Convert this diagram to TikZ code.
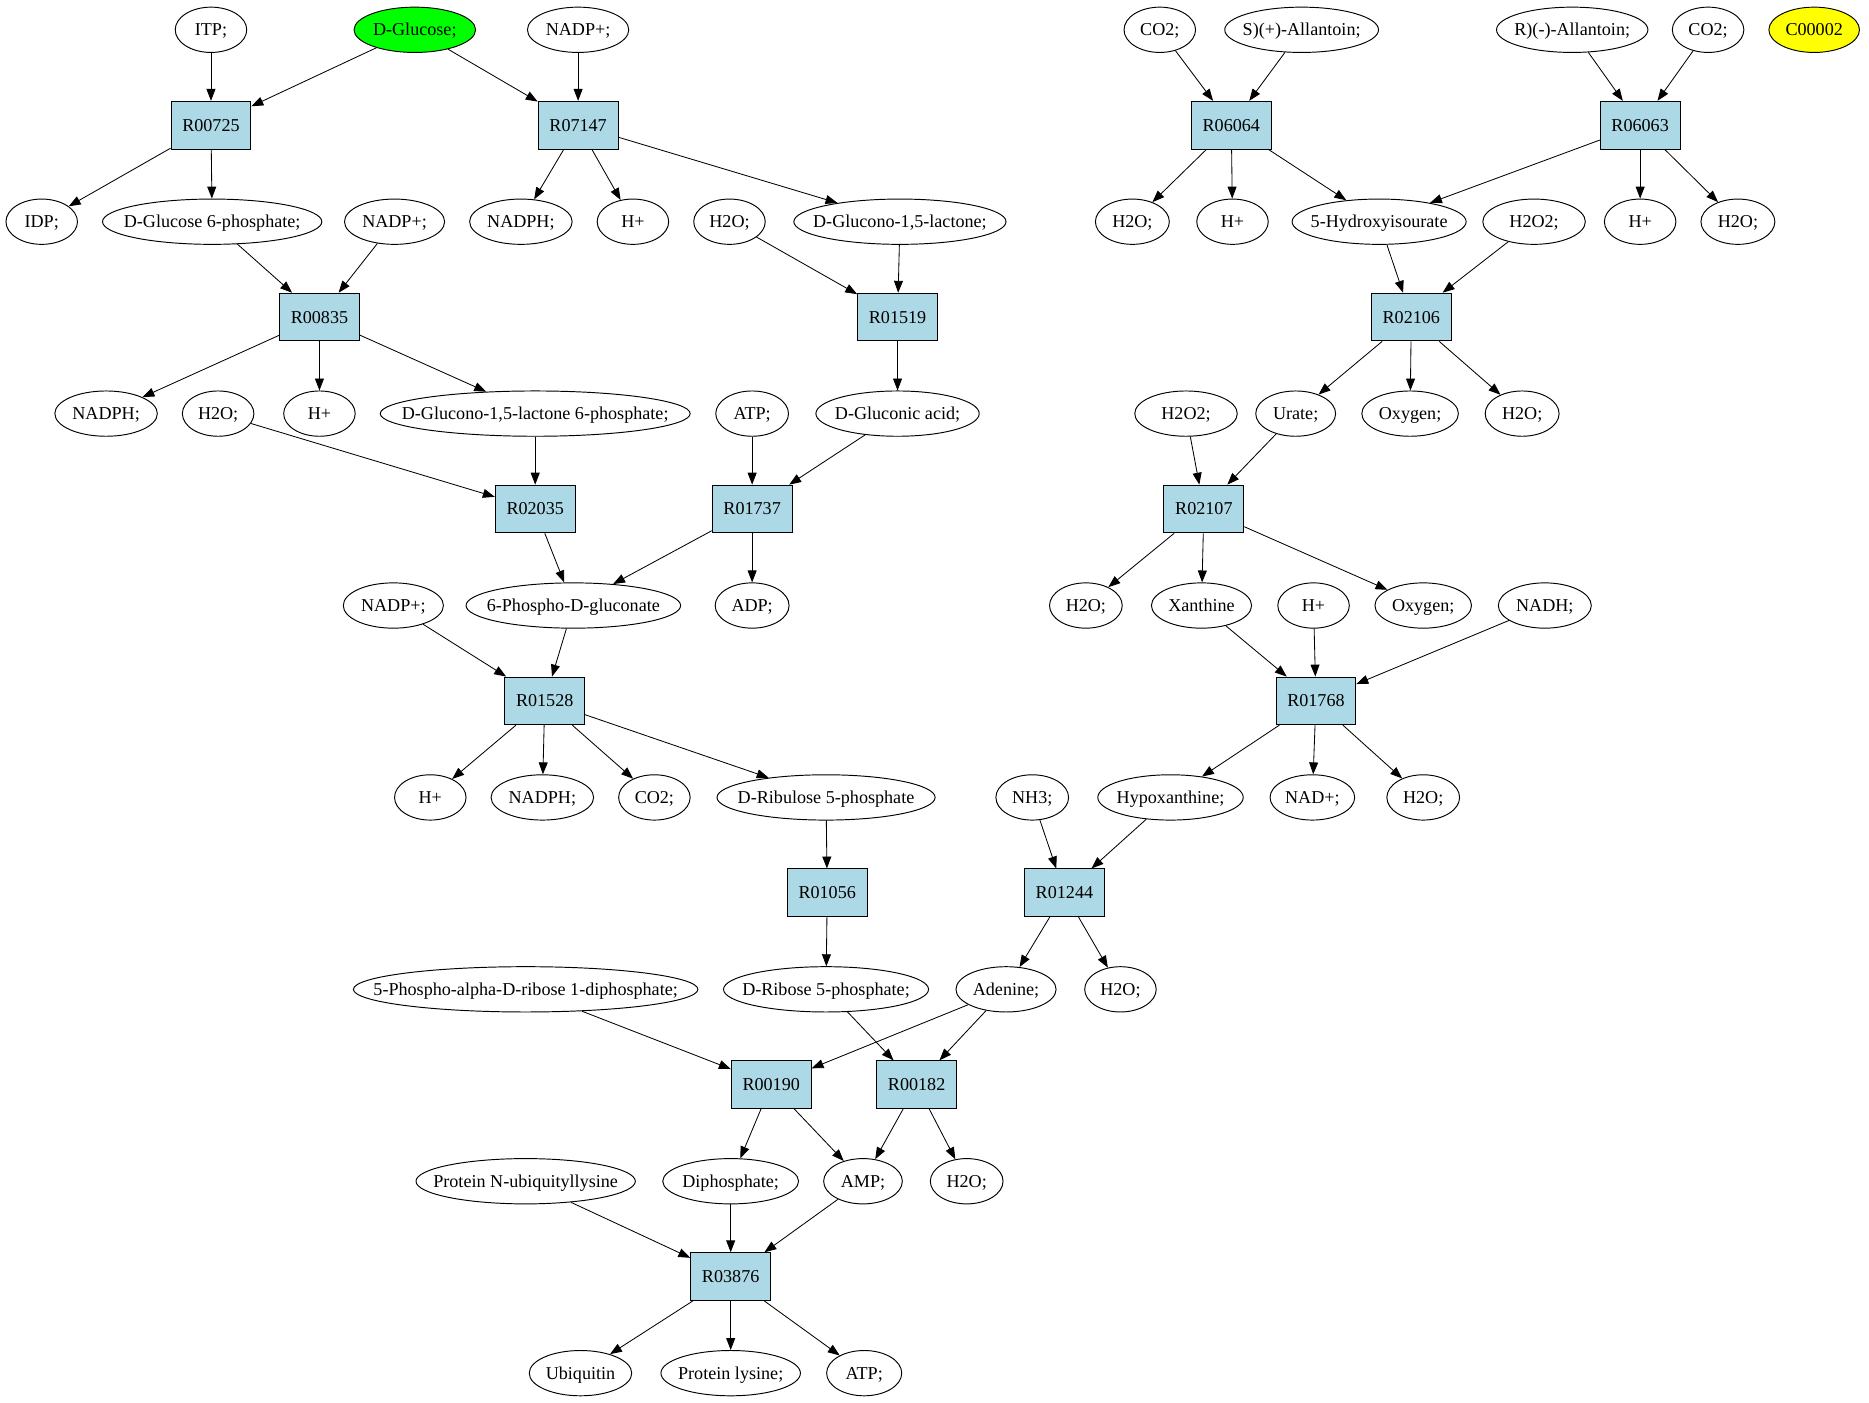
\documentclass[tikz,border=0pt]{standalone}
\usepackage{fontspec}
\setmainfont{Liberation Serif}
\usetikzlibrary{shapes.geometric,arrows.meta}
\definecolor{lightblue}{HTML}{ADD8E6}
\definecolor{gvgreen}{HTML}{00FF00}
\definecolor{gvyellow}{HTML}{FFFF00}
\newcommand\gvfont{\fontsize{15.2}{17}\selectfont}
\newcommand\mt[5][]{\node[met,minimum width=#4pt,#1] (#2) at (#3) {\makebox[0pt]{#5}};}
\begin{document}
\begin{tikzpicture}[x=1pt,y=-1pt,
  met/.style={ellipse,draw,line width=0.8pt,inner sep=0pt,minimum height=38pt,font=\gvfont,text height=11pt,text depth=1pt},
  rxn/.style={rectangle,draw,fill=lightblue,line width=0.8pt,minimum width=67pt,minimum height=40pt,inner sep=0pt,font=\gvfont,text height=11pt,text depth=1pt},
  arr/.style={-{Triangle[length=10pt,width=7.5pt]},line width=0.7pt}]
\useasboundingbox (0,0) rectangle (1568,1177);
% row 0
\mt{itp}{177,25}{60}{ITP;}
\mt[fill=gvgreen]{glc}{348,25}{102}{D-Glucose;}
\mt{nadpA}{485,25}{85}{NADP+;}
\mt{co2A}{973,25}{60}{CO2;}
\mt{sall}{1092,25}{129}{S)(+)-Allantoin;}
\mt{rall}{1319,25}{127}{R)(-)-Allantoin;}
\mt{co2B}{1433,25}{60}{CO2;}
\mt[fill=gvyellow]{c2}{1522,25}{76}{C00002}
% row 1
\node[rxn] (r725) at (177,105) {R00725};
\node[rxn] (r7147) at (485,105) {R07147};
\node[rxn] (r6064) at (1033,105) {R06064};
\node[rxn] (r6063) at (1376,105) {R06063};
% row 2
\mt{idp}{35,186}{60}{IDP;}
\mt{g6p}{178,186}{184}{D-Glucose 6-phosphate;}
\mt{nadpB}{331,186}{84}{NADP+;}
\mt{nadphA}{437,186}{86}{NADPH;}
\mt{hA}{531,186}{60}{H+}
\mt{h2oA}{612,186}{60}{H2O;}
\mt{glac}{755,186}{178}{D-Glucono-1,5-lactone;}
\mt{h2oB}{950,186}{62}{H2O;}
\mt{hB}{1034,186}{60}{H+}
\mt{hiu}{1157,186}{146}{5-Hydroxyisourate}
\mt{h2o2A}{1287,186}{86}{H2O2;}
\mt{hC}{1376,186}{60}{H+}
\mt{h2oC}{1458,186}{62}{H2O;}
% row 3
\node[rxn] (r835) at (268,266) {R00835};
\node[rxn] (r1519) at (753,266) {R01519};
\node[rxn] (r2106) at (1184,266) {R02106};
% row 4
\mt{nadphB}{89,347}{86}{NADPH;}
\mt{h2oD}{183,347}{60}{H2O;}
\mt{hD}{268,347}{60}{H+}
\mt{lac6p}{449,347}{260}{D-Glucono-1,5-lactone 6-phosphate;}
\mt{atpA}{631,347}{61}{ATP;}
\mt{glcn}{753,347}{137}{D-Gluconic acid;}
\mt{h2o2B}{995,347}{86}{H2O2;}
\mt{urate}{1087,347}{67}{Urate;}
\mt{oxA}{1183,347}{81}{Oxygen;}
\mt{h2oE}{1277,347}{62}{H2O;}
% row 5
\node[rxn] (r2035) at (449,427) {R02035};
\node[rxn] (r1737) at (631,427) {R01737};
\node[rxn] (r2107) at (1010,427) {R02107};
% row 6
\mt{nadpC}{330,508}{84}{NADP+;}
\mt{pg6}{481,508}{180}{6-Phospho-D-gluconate}
\mt{adp}{631,508}{62}{ADP;}
\mt{h2oF}{911,508}{61}{H2O;}
\mt{xan}{1008,508}{84}{Xanthine}
\mt{hE}{1102,508}{60}{H+}
\mt{oxB}{1194,508}{81}{Oxygen;}
\mt{nadh}{1296,508}{78}{NADH;}
% row 7
\node[rxn] (r1528) at (457,588) {R01528};
\node[rxn] (r1768) at (1104,588) {R01768};
% row 8
\mt{hF}{361,669}{60}{H+}
\mt{nadphC}{455,669}{86}{NADPH;}
\mt{co2C}{549,669}{60}{CO2;}
\mt{ru5p}{693,669}{183}{D-Ribulose 5-phosphate}
\mt{nh3}{866,669}{61}{NH3;}
\mt{hyp}{982,669}{122}{Hypoxanthine;}
\mt{nad}{1101,669}{71}{NAD+;}
\mt{h2oG}{1194,669}{61}{H2O;}
% row 9
\node[rxn] (r1056) at (694,749) {R01056};
\node[rxn] (r1244) at (893,749) {R01244};
% row 10
\mt{prpp}{441,830}{289}{5-Phospho-alpha-D-ribose 1-diphosphate;}
\mt{r5p}{693,830}{172}{D-Ribose 5-phosphate;}
\mt{ade}{844,830}{84}{Adenine;}
\mt{h2oH}{940,830}{60}{H2O;}
% row 11
\node[rxn] (r190) at (647,910) {R00190};
\node[rxn] (r182) at (769,910) {R00182};
% row 12
\mt{pnu}{441,991}{184}{Protein N-ubiquityllysine}
\mt{ppi}{613,991}{114}{Diphosphate;}
\mt{amp}{724,991}{66}{AMP;}
\mt{h2oI}{811,991}{61}{H2O;}
% row 13
\node[rxn] (r3876) at (613,1071) {R03876};
% row 14
\mt{ub}{487,1152}{86}{Ubiquitin}
\mt{plys}{613,1152}{117}{Protein lysine;}
\mt{atpB}{725,1152}{63}{ATP;}
% edges
\foreach \a/\b in {itp/r725, glc/r725, glc/r7147, nadpA/r7147,
 r725/idp, r725/g6p, r7147/nadphA, r7147/hA, r7147/glac,
 g6p/r835, nadpB/r835, h2oA/r1519, glac/r1519,
 r835/nadphB, r835/hD, r835/lac6p, r1519/glcn,
 h2oD/r2035, lac6p/r2035, atpA/r1737, glcn/r1737,
 r2035/pg6, r1737/pg6, r1737/adp,
 nadpC/r1528, pg6/r1528,
 r1528/hF, r1528/nadphC, r1528/co2C, r1528/ru5p,
 ru5p/r1056, r1056/r5p,
 prpp/r190, ade/r190, r5p/r182, ade/r182,
 r190/ppi, r190/amp, r182/amp, r182/h2oI,
 pnu/r3876, ppi/r3876, amp/r3876,
 r3876/ub, r3876/plys, r3876/atpB,
 co2A/r6064, sall/r6064, rall/r6063, co2B/r6063,
 r6064/h2oB, r6064/hB, r6064/hiu,
 r6063/hiu, r6063/hC, r6063/h2oC,
 hiu/r2106, h2o2A/r2106,
 r2106/urate, r2106/oxA, r2106/h2oE,
 h2o2B/r2107, urate/r2107,
 r2107/h2oF, r2107/xan, r2107/oxB,
 xan/r1768, hE/r1768, nadh/r1768,
 r1768/hyp, r1768/nad, r1768/h2oG,
 nh3/r1244, hyp/r1244,
 r1244/ade, r1244/h2oH}
 \draw[arr] (\a) -- (\b);
\end{tikzpicture}
\end{document}
